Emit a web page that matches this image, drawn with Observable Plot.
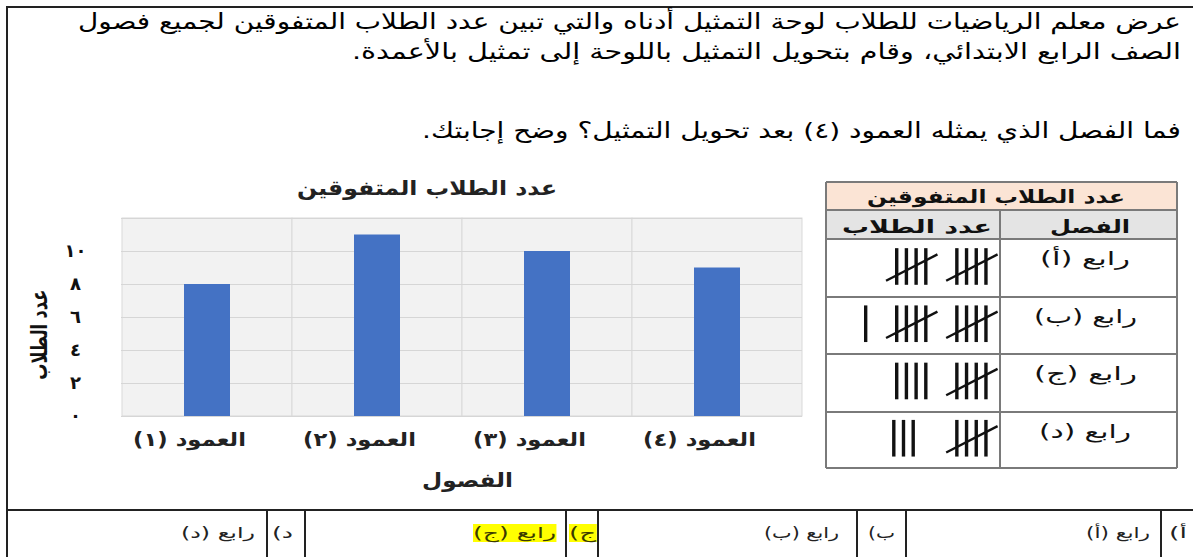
<!DOCTYPE html>
<html lang="ar">
<head>
<meta charset="utf-8">
<script src="https://cdn.jsdelivr.net/npm/d3@7"></script>
<script src="https://cdn.jsdelivr.net/npm/@observablehq/plot@0.6"></script>
<style>
html,body{margin:0;padding:0;background:#fff;}
#page{position:relative;width:1193px;height:557px;overflow:hidden;font-family:"DejaVu Sans",sans-serif;color:#111;background:#fff;}
.abs{position:absolute;white-space:nowrap;direction:rtl;}
.ln{position:absolute;background:#222;}
</style>
</head>
<body>
<div id="page"></div>
<script>
// ---------- data ----------
const columns = ["العمود (١)", "العمود (٢)", "العمود (٣)", "العمود (٤)"];
const studentCounts = [8, 11, 10, 9];
const yTicks = [0, 2, 4, 6, 8, 10];
const yTickLabels = ["٠", "٢", "٤", "٦", "٨", "١٠"];
const yMax = 12;
const classes = ["رابع (أ)", "رابع (ب)", "رابع (ج)", "رابع (د)"];
const tallyCounts = [10, 11, 9, 8];
const answerLetters = ["أ)", "ب)", "ج)", "د)"];
const answerChoices = ["رابع (أ)", "رابع (ب)", "رابع (ج)", "رابع (د)"];
const highlightedAnswer = 2;
const questionLines = [
  "عرض معلم الرياضيات للطلاب لوحة التمثيل أدناه والتي تبين عدد الطلاب المتفوقين لجميع فصول",
  "الصف الرابع الابتدائي، وقام بتحويل التمثيل باللوحة إلى تمثيل بالأعمدة.",
  "فما الفصل الذي يمثله العمود (٤) بعد تحويل التمثيل؟ وضح إجابتك."
];
const chartTitle = "عدد الطلاب المتفوقين";
const xTitle = "الفصول";
const yTitle = "عدد الطلاب";
const tableTitle = "عدد الطلاب المتفوقين";
const tableHeaders = ["الفصل", "عدد الطلاب"];

// ---------- helpers ----------
const page = document.getElementById("page");
function box(css, cls = "abs") {
  const d = document.createElement("div");
  d.className = cls;
  Object.assign(d.style, css);
  page.appendChild(d);
  return d;
}
function hline(x1, x2, y, t = 1.5, c = "#222") {
  box({left: x1 + "px", top: (y - t / 2) + "px", width: (x2 - x1) + "px", height: t + "px", background: c}, "ln");
}
function vline(x, y1, y2, t = 1.5, c = "#222") {
  box({left: (x - t / 2) + "px", top: y1 + "px", width: t + "px", height: (y2 - y1) + "px", background: c}, "ln");
}
// place a text so that it spans `width` pixels (horizontal fit), anchored by right edge or centre
function placeText(txt, o) {
  const d = box({fontSize: o.size + "px", fontWeight: o.weight || "normal", color: o.color || "#111",
    lineHeight: "1.2", left: "0px", top: "0px", background: o.bg || "transparent", padding: o.pad || "0"});
  d.textContent = txt;
  const r = d.getBoundingClientRect();
  const s = o.width ? o.width / r.width : 1;
  if (o.rotate) {
    d.style.left = (o.cx - r.width / 2) + "px";
    d.style.top = (o.cy - r.height / 2) + "px";
    d.style.transformOrigin = "50% 50%";
    d.style.transform = `rotate(${o.rotate}deg) scaleX(${s})`;
    return d;
  }
  const w = r.width * s;
  const left = o.right !== undefined ? o.right - w : o.cx - w / 2;
  d.style.left = left + "px";
  d.style.top = (o.cy - r.height / 2) + "px";
  d.style.transformOrigin = "0 50%";
  d.style.transform = `scaleX(${s})`;
  return d;
}

// ---------- frame ----------
hline(7, 1193, 7, 2);
vline(7, 6, 557, 2);

// ---------- question text ----------
placeText(questionLines[0], {right: 1181, cy: 22, size: 22, width: 1103, color: "#000"});
placeText(questionLines[1], {right: 1181, cy: 52, size: 22, width: 829, color: "#000"});
placeText(questionLines[2], {right: 1181, cy: 131, size: 22, width: 759, color: "#000"});

// ---------- bar chart ----------
const barData = columns.map((c, i) => ({col: c, v: studentCounts[i]}));
const chart = Plot.plot({
  width: 820,
  height: 310,
  marginLeft: 121,
  marginRight: 18,
  marginTop: 28,
  marginBottom: 84,
  style: {direction: "rtl", fontFamily: "DejaVu Sans, sans-serif", background: "transparent", overflow: "visible", color: "#111"},
  x: {domain: columns, padding: 0, label: null},
  y: {domain: [0, yMax], label: null},
  marks: [
    Plot.barY(columns, {x: d => d, y1: 0, y2: yMax, fill: "#f2f2f2", stroke: "#d9d9d9", strokeWidth: 1}),
    Plot.gridY(d3.range(0, yMax + 1, 2), {stroke: "#d6d6d6", strokeOpacity: 1}),
    Plot.barY(barData, {x: "col", y: "v", fill: "#4472c4", insetLeft: 62, insetRight: 62}),
    Plot.axisX({tickSize: 0, tickPadding: 16, dx: -18, fontSize: 19, fontWeight: "bold", label: null, fill: "#222"}),
    Plot.axisY(yTicks, {tickSize: 0, tickPadding: 46, textAnchor: "middle", fontSize: 18, fontWeight: "bold", label: null, fill: "#111",
      tickFormat: d => yTickLabels[yTicks.indexOf(d)]})
  ]
});
const chartBox = box({left: "0px", top: "190px", direction: "ltr"});
chartBox.appendChild(chart);
// stretch x tick labels horizontally to the reference's wide face
chart.querySelectorAll('g[aria-label="x-axis tick label"] text').forEach(t => {
  const len = t.getComputedTextLength();
  const s = 113 / len;
  t.setAttribute("transform", (t.getAttribute("transform") || "") + ` scale(${s},1)`);
});

placeText(chartTitle, {cx: 427, cy: 188, size: 20, width: 260, weight: "bold", color: "#222"});
placeText(xTitle, {cx: 467, cy: 480, size: 20, width: 91, weight: "bold", color: "#222"});
placeText(yTitle, {cx: 40, cy: 335, size: 23, width: 90, weight: "bold", color: "#111", rotate: -90});

// ---------- tally table ----------
const TL = 826, TR = 1177, TC = 1000, TT = 182, H1 = 210, H2 = 239;
const rowEdges = [239, 297, 354, 412, 468];
box({left: TL + "px", top: TT + "px", width: (TR - TL) + "px", height: (H1 - TT) + "px", background: "#fbe4d5"});
box({left: TL + "px", top: H1 + "px", width: (TR - TL) + "px", height: (H2 - H1) + "px", background: "#e4e4e4"});
const gc = "#7a7a7a";
hline(TL, TR, TT, 1.5, gc);
hline(TL, TR, H1, 1.5, gc);
rowEdges.forEach(y => hline(TL, TR, y, 1.5, gc));
vline(TL, TT, 468, 1.5, gc);
vline(TR, TT, 468, 1.5, gc);
vline(TC, H1, 468, 1.5, gc);
placeText(tableTitle, {cx: 996, cy: 197, size: 18, width: 258, weight: "bold", color: "#111"});
placeText(tableHeaders[0], {cx: 1090, cy: 227, size: 18, width: 80, weight: "bold"});
placeText(tableHeaders[1], {cx: 917, cy: 227, size: 18, width: 150, weight: "bold"});
const classWidths = [90, 103, 103, 92];
classes.forEach((c, i) => placeText(c, {cx: 1085, cy: rowEdges[i] + 19, size: 19, width: classWidths[i], color: "#111"}));

// tally marks drawn with Plot (x in stroke-spacing units, measured from the right)
const verticals = [], diagonals = [];
tallyCounts.forEach((n, row) => {
  const groups = Math.floor(n / 5), rest = n % 5;
  for (let g = 0; g < groups; g++) {
    const base = 1.5 + g * 6.2;
    for (let k = 0; k < 4; k++) verticals.push({x: base + k, y1: row + 0.16, y2: row + 0.80});
    diagonals.push({x1: base + 4.1, y1: row + 0.72, x2: base - 1.2, y2: row + 0.26});
  }
  const base = 1.5 + groups * 6.2 + (rest > 1 ? (4 - rest) * 1.3 : 0);
  for (let k = 0; k < rest; k++) verticals.push({x: base + k, y1: row + 0.16, y2: row + 0.80});
});
const tally = Plot.plot({
  width: TC - TL,
  height: 468 - 239,
  margin: 0,
  style: {background: "transparent", overflow: "visible"},
  x: {domain: [0, (TC - TL) / 9.7], reverse: true, axis: null},
  y: {domain: [0, 4], reverse: true, axis: null},
  marks: [
    Plot.ruleX(verticals, {x: "x", y1: "y1", y2: "y2", stroke: "#111", strokeWidth: 3.4}),
    Plot.link(diagonals, {x1: "x1", y1: "y1", x2: "x2", y2: "y2", stroke: "#111", strokeWidth: 2.4})
  ]
});
const tallyBox = box({left: TL + "px", top: "239px", direction: "ltr"});
tallyBox.appendChild(tally);

// ---------- answer row ----------
hline(7, 1193, 510, 1.5);
const dividers = [267, 305, 566, 598, 857, 906, 1161];
dividers.forEach(x => vline(x, 510, 557, 1.5));
const letterRights = [1187, 895, 596, 293];
const letterWidths = [18, 27, 27, 21];
const choiceRights = [1150, 839, 556, 255];
const choiceWidths = [64, 75, 83, 74];
answerLetters.forEach((t, i) => {
  const hl = i === highlightedAnswer ? {bg: "#ffff00", color: "#3a3a00"} : {color: "#222"};
  placeText(t, Object.assign({right: letterRights[i], cy: 533, size: 15, width: letterWidths[i]}, hl));
  placeText(answerChoices[i], Object.assign({right: choiceRights[i], cy: 533, size: 15, width: choiceWidths[i]}, hl));
});
</script>
</body>
</html>
